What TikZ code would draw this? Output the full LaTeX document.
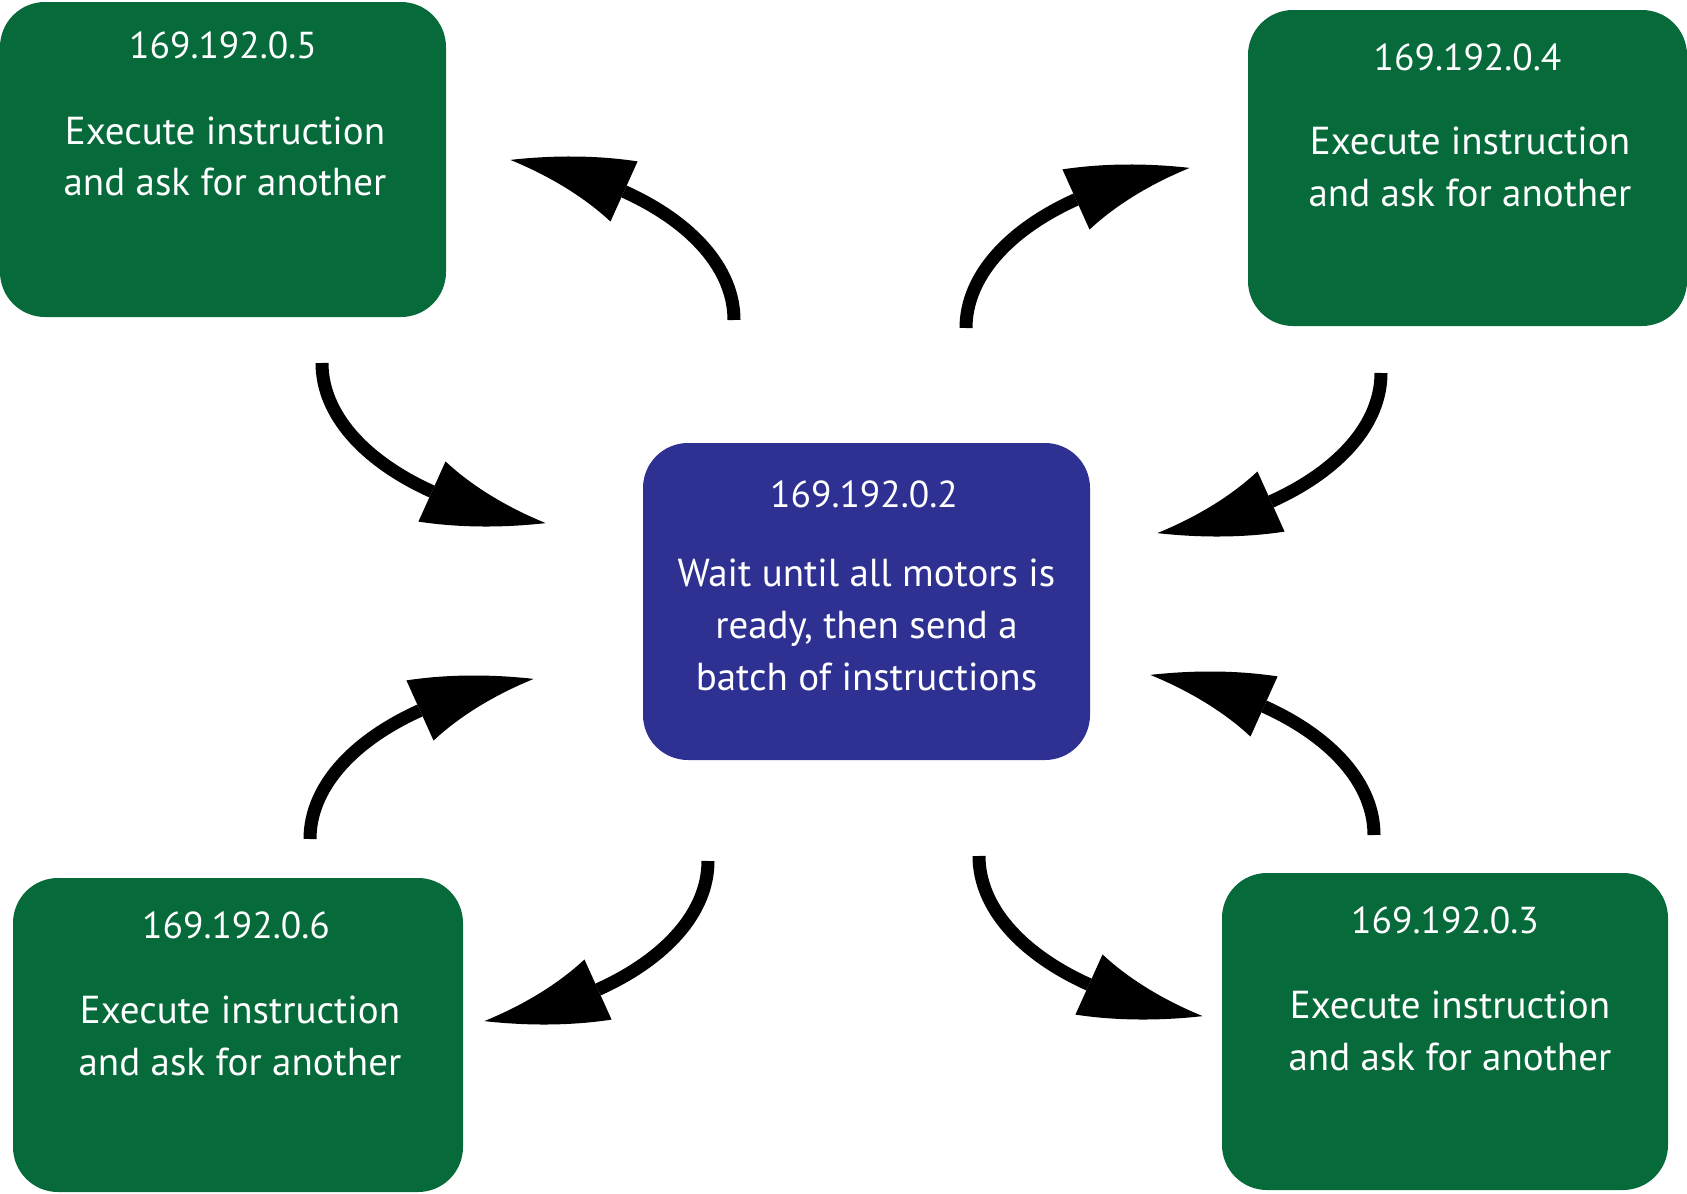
\documentclass[tikz,border=0pt]{standalone}
\usepackage{fontspec}
\setmainfont{PT Sans}
\usetikzlibrary{arrows.meta,bending}
\definecolor{boxgreen}{RGB}{6,106,58}
\definecolor{boxblue}{RGB}{46,49,146}
\tikzset{
  gbox/.style={rectangle, rounded corners=45pt, fill=boxgreen, draw=none, inner sep=0pt},
  bbox/.style={gbox, fill=boxblue},
  txt/.style={text=white, inner sep=0pt, anchor=base, font=\fontsize{39}{50}\selectfont},
  iptxt/.style={txt, font=\fontsize{37.5}{50}\selectfont},
  arr/.style={line width=13pt, draw=black, -{Triangle[length=128pt, width=66pt, bend, line width=0pt]}}
}
\begin{document}
\begin{tikzpicture}[x=1pt, y=-1pt]
\useasboundingbox (0,0) rectangle (1687,1194);
% boxes
\node[gbox, minimum width=446pt, minimum height=315pt] (tl) at (223,159.5) {};
\node[gbox, minimum width=439pt, minimum height=316pt] (tr) at (1467.5,168) {};
\node[bbox, minimum width=447pt, minimum height=317pt] (c) at (866.5,601.5) {};
\node[gbox, minimum width=450pt, minimum height=314pt] (bl) at (238,1035) {};
\node[gbox, minimum width=446pt, minimum height=317pt] (br) at (1445,1031.5) {};
% texts
\node[iptxt] (tl1) at (223,58) {169.192.0.5};
\node[txt] (tl2) at (225,144) {Execute instruction};
\node[txt] (tl3) at (225,195) {and ask for another};
\node[iptxt] (tr1) at (1467.5,70) {169.192.0.4};
\node[txt] (tr2) at (1470,154) {Execute instruction};
\node[txt] (tr3) at (1470,206) {and ask for another};
\node[iptxt] (c1) at (864,507) {169.192.0.2};
\node[txt] (c2) at (866.5,586) {Wait until all motors is};
\node[txt] (c3) at (866.5,638) {ready, then send a};
\node[txt] (c4) at (866.5,690) {batch of instructions};
\node[iptxt] (bl1) at (236,938) {169.192.0.6};
\node[txt] (bl2) at (240,1023) {Execute instruction};
\node[txt] (bl3) at (240,1075) {and ask for another};
\node[iptxt] (br1) at (1445,933) {169.192.0.3};
\node[txt] (br2) at (1450,1018) {Execute instruction};
\node[txt] (br3) at (1450,1070) {and ask for another};
% arrow tails
\coordinate (a1) at (322,363);
\coordinate (a2) at (734,320);
\coordinate (b1) at (966,328);
\coordinate (b2) at (1381,373);
\coordinate (c1t) at (310,839);
\coordinate (c2t) at (708,861);
\coordinate (d1) at (1374,835);
\coordinate (d2) at (979,856);
% arrows
\draw[arr] (a1) arc[start angle=180, end angle=104, x radius=295, y radius=165];
\draw[arr] (a2) arc[start angle=0, end angle=-76, x radius=295, y radius=165];
\draw[arr] (b1) arc[start angle=180, end angle=256, x radius=295, y radius=165];
\draw[arr] (b2) arc[start angle=0, end angle=76, x radius=295, y radius=165];
\draw[arr] (c1t) arc[start angle=180, end angle=256, x radius=295, y radius=165];
\draw[arr] (c2t) arc[start angle=0, end angle=76, x radius=295, y radius=165];
\draw[arr] (d1) arc[start angle=0, end angle=-76, x radius=295, y radius=165];
\draw[arr] (d2) arc[start angle=180, end angle=104, x radius=295, y radius=165];
\end{tikzpicture}
\end{document}
